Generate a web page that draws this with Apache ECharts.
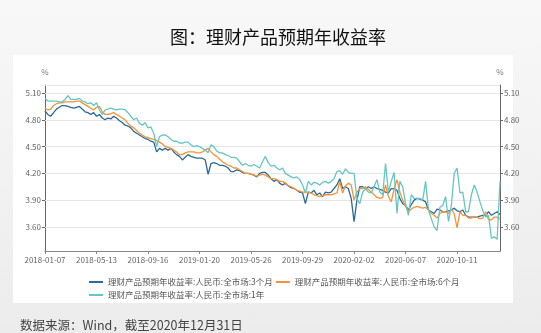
<!DOCTYPE html>
<html>
<head>
<meta charset="utf-8">
<script src="https://cdn.jsdelivr.net/npm/echarts@6/dist/echarts.min.js"></script>
<style>
  html, body { margin: 0; padding: 0; }
  body {
    width: 541px; height: 333px; position: relative; overflow: hidden;
    background: linear-gradient(180deg, #f8f8f8 0%, #ececec 100%);
  }
  .panel { position: absolute; left: 13px; top: 55px; width: 500px; height: 248px; background: #fff; }
  #chart { position: absolute; left: 0; top: 0; width: 541px; height: 333px; }
</style>
</head>
<body>
<div class="panel"></div>
<div id="chart"></div>
<script>
// 周度数据，2018-01-07 起
const rate3m = [
  4.90, 4.86, 4.84, 4.88, 4.92, 4.94, 4.96, 4.96, 4.95, 4.94, 4.93, 4.94, 4.95, 4.92, 4.89, 4.88, 4.86, 4.88, 4.84, 4.86,
  4.82, 4.80, 4.82, 4.81, 4.84, 4.82, 4.79, 4.77, 4.74, 4.73, 4.71, 4.67, 4.65, 4.63, 4.61, 4.59, 4.58, 4.56, 4.55, 4.44,
  4.48, 4.46, 4.48, 4.46, 4.48, 4.44, 4.41, 4.39, 4.35, 4.38, 4.41, 4.39, 4.38, 4.37,
  4.37, 4.37, 4.35, 4.19, 4.31, 4.32, 4.31, 4.29, 4.29, 4.28, 4.26, 4.22, 4.22, 4.24, 4.23, 4.21, 4.20, 4.20, 4.19, 4.18,
  4.16, 4.20, 4.21, 4.21, 4.18, 4.14, 4.11, 4.13, 4.09, 4.07, 4.09, 4.06, 4.04, 4.03, 4.01, 3.99, 3.98, 3.86, 3.99, 3.98,
  4.01, 3.96, 3.98, 3.94, 3.99, 3.98, 3.99, 4.03, 4.07, 4.14, 4.03, 4.05, 4.03,
  3.92, 3.66, 3.90, 4.05, 4.05, 4.03, 4.05, 4.03, 4.05, 4.03, 4.02, 4.01, 3.99, 3.98, 4.03, 4.03, 4.01, 3.92, 3.86, 3.84,
  3.79, 3.85, 3.90, 3.92, 3.91, 3.90, 3.88, 3.79, 3.77, 3.75, 3.80, 3.79, 3.77, 3.77, 3.78, 3.79, 3.81, 3.78, 3.77, 3.79,
  3.73, 3.71, 3.71, 3.71, 3.71, 3.72, 3.73, 3.73, 3.77, 3.73, 3.75, 3.77, 3.74
];
const rate6m = [
  4.93, 4.91, 4.92, 4.96, 4.98, 4.99, 4.99, 5.00, 5.00, 5.00, 5.00, 5.01, 5.01, 4.99, 4.97, 4.95, 4.93, 4.91, 4.94, 4.95,
  4.89, 4.86, 4.86, 4.87, 4.88, 4.86, 4.84, 4.82, 4.80, 4.76, 4.73, 4.71, 4.68, 4.65, 4.63, 4.61, 4.60, 4.59, 4.58, 4.57,
  4.55, 4.53, 4.50, 4.49, 4.48, 4.46, 4.44, 4.41, 4.41, 4.43, 4.44, 4.44, 4.44, 4.43,
  4.43, 4.44, 4.46, 4.48, 4.44, 4.41, 4.39, 4.36, 4.33, 4.31, 4.29, 4.28, 4.26, 4.26, 4.24, 4.22, 4.20, 4.20, 4.19, 4.18,
  4.17, 4.18, 4.19, 4.18, 4.16, 4.14, 4.14, 4.13, 4.11, 4.11, 4.09, 4.06, 4.05, 4.03, 4.01, 4.00, 3.99, 3.99, 3.99, 3.98,
  3.96, 3.95, 3.94, 3.95, 3.96, 3.96, 3.96, 3.97, 3.98, 4.11, 3.98, 4.06, 4.09,
  4.07, 3.90, 3.99, 4.03, 4.03, 4.05, 4.02, 3.99, 3.96, 3.93, 3.92, 3.93, 4.07, 3.94, 3.88, 4.03, 4.13, 3.99, 3.90, 3.83,
  3.77, 3.80, 3.82, 3.83, 3.82, 3.81, 3.82, 3.79, 3.75, 3.73, 3.70, 3.75, 3.77, 3.77, 3.75, 3.80, 3.75, 3.59, 3.77, 3.73,
  3.73, 3.70, 3.70, 3.71, 3.71, 3.69, 3.70, 3.77, 3.68, 3.68, 3.71, 3.71, 3.69
];
const rate1y = [
  5.04, 5.01, 5.01, 5.01, 5.01, 5.00, 5.00, 5.03, 5.07, 5.03, 5.03, 5.03, 5.04, 5.01, 5.00, 4.98, 4.99, 4.96, 4.99, 4.91,
  4.86, 4.91, 4.92, 4.93, 4.92, 4.91, 4.92, 4.92, 4.91, 4.88, 4.84, 4.80, 4.82, 4.76, 4.74, 4.77, 4.71, 4.72, 4.65, 4.50,
  4.61, 4.63, 4.63, 4.61, 4.58, 4.56, 4.56, 4.54, 4.54, 4.55, 4.55, 4.52, 4.50, 4.51,
  4.50, 4.48, 4.46, 4.43, 4.52, 4.50, 4.45, 4.43, 4.43, 4.41, 4.40, 4.38, 4.38, 4.37, 4.33, 4.29, 4.31, 4.29, 4.28, 4.30,
  4.28, 4.26, 4.33, 4.39, 4.32, 4.28, 4.29, 4.26, 4.24, 4.26, 4.20, 4.18, 4.16, 4.15, 4.16, 4.13, 4.07, 3.98, 4.11, 4.07,
  4.10, 4.09, 4.07, 4.10, 4.11, 4.09, 4.11, 4.14, 4.22, 4.23, 4.19, 4.25, 4.21,
  4.20, 4.20, 3.92, 3.86, 3.99, 4.03, 3.99, 3.98, 4.05, 4.13, 3.99, 3.96, 4.31, 3.99, 4.11, 4.21, 3.75, 4.11, 4.05, 3.86,
  3.73, 3.96, 3.92, 3.92, 3.92, 3.90, 4.11, 3.79, 3.69, 3.60, 3.56, 3.82, 3.84, 3.94, 3.66, 3.84, 4.20, 4.26, 3.98, 3.99,
  3.77, 3.77, 3.96, 4.07, 3.99, 3.88, 3.78, 3.71, 3.73, 3.47, 3.49, 3.46, 4.11
];
const seriesNames = [
  '理财产品预期年收益率:人民币:全市场:3个月',
  '理财产品预期年收益率:人民币:全市场:6个月',
  '理财产品预期年收益率:人民币:全市场:1年'
];
const yTicks = [3.6, 3.9, 4.2, 4.5, 4.8, 5.1];
const yMin = 3.33;
const yMax = 5.19;

const startDate = Date.UTC(2018, 0, 7);
const dates = rate3m.map((_, i) => new Date(startDate + i * 7 * 86400000).toISOString().slice(0, 10));

const fontFamily = "'Noto Sans CJK SC', 'Noto Sans', sans-serif";
const colors = ['#2a6a9c', '#f39436', '#66c6c3'];

const chart = echarts.init(document.getElementById('chart'), null, { renderer: 'canvas' });

const makeYAxis = (position) => ({
  type: 'value',
  position: position,
  min: yMin,
  max: yMax,
  name: '%',
  nameLocation: 'end',
  nameGap: 9,
  nameTextStyle: { fontSize: 8, color: '#777', fontFamily, align: 'center' },
  axisLine: { show: true, lineStyle: { color: '#666', width: 1 } },
  axisTick: { show: true, length: 3, customValues: yTicks, lineStyle: { color: '#666' } },
  axisLabel: {
    fontSize: 8, color: '#666', fontFamily, margin: 4,
    customValues: yTicks,
    formatter: (v) => v.toFixed(2)
  },
  splitLine: { show: false }
});

const option = {
  animation: false,
  textStyle: { fontFamily },
  title: [
    {
      text: '图：理财产品预期年收益率',
      left: 165, top: 23,
      textStyle: { fontSize: 18, fontWeight: 'normal', color: '#111', fontFamily }
    },
    {
      text: '数据来源：Wind，截至2020年12月31日',
      left: 15, top: 314,
      textStyle: { fontSize: 12.5, fontWeight: 'normal', color: '#444', fontFamily }
    }
  ],
  grid: { left: 45, right: 41, top: 85, bottom: 82 },
  legend: {
    data: seriesNames,
    left: 84, top: 272, width: 380,
    icon: 'rect', itemWidth: 14, itemHeight: 2, itemGap: 3,
    textStyle: { fontSize: 8.5, color: '#555', fontFamily, lineHeight: 10 }
  },
  xAxis: {
    type: 'category',
    data: dates,
    boundaryGap: false,
    axisLine: { lineStyle: { color: '#888' } },
    axisTick: { interval: 17, length: 3, lineStyle: { color: '#888' } },
    axisLabel: { interval: 17, fontSize: 8, color: '#666', margin: 5, fontFamily }
  },
  yAxis: [makeYAxis('left'), makeYAxis('right')],
  series: [
    {
      name: seriesNames[0], type: 'line', data: rate3m, showSymbol: false,
      lineStyle: { width: 1.3, color: colors[0] }, itemStyle: { color: colors[0] },
      markLine: {
        silent: true, symbol: ['none', 'none'], z: 1,
        label: { show: false },
        lineStyle: { color: '#e6e6e6', type: 'solid', width: 1 },
        data: [yMax].concat(yTicks).map((v) => ({ yAxis: v }))
      }
    },
    {
      name: seriesNames[1], type: 'line', data: rate6m, showSymbol: false,
      lineStyle: { width: 1.3, color: colors[1] }, itemStyle: { color: colors[1] }
    },
    {
      name: seriesNames[2], type: 'line', data: rate1y, showSymbol: false,
      lineStyle: { width: 1.3, color: colors[2] }, itemStyle: { color: colors[2] }
    }
  ]
};

chart.setOption(option);
</script>
</body>
</html>
